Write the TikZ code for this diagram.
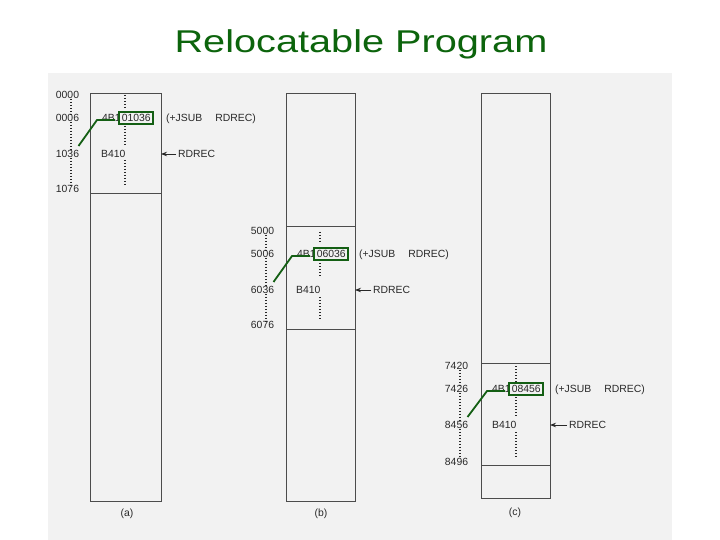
\documentclass[tikz,border=0pt]{standalone}
\usepackage{fontspec}
\setmainfont{Liberation Sans}
\usetikzlibrary{arrows.meta}
\definecolor{ttl}{RGB}{12,100,12}
\definecolor{gbox}{RGB}{20,95,20}
\definecolor{ink}{RGB}{40,40,40}
\definecolor{panel}{RGB}{242,242,242}
\begin{document}
\begin{tikzpicture}[x=1bp,y=-1bp,
  lbl/.style={font=\fontsize{10.4bp}{12bp}\selectfont, text=ink, inner sep=0pt, text height=7.4bp, text depth=0pt},
  mem/.style={draw=black!70, line width=0.9bp},
  dots/.style={draw=ink, line width=1.8bp, dash pattern=on 1.4bp off 1.6bp},
  gbx/.style={lbl, draw=gbox, line width=1.8bp, inner xsep=2.5bp, inner ysep=2bp},
  link/.style={draw=gbox, line width=1.8bp},
  ptr/.style={draw=ink, line width=0.9bp, -{Stealth[length=6bp,width=4.5bp]}}]
\useasboundingbox (0,0) rectangle (720,540);
\fill[white] (0,0) rectangle (720,540);
\fill[panel] (48,73) rectangle (672,540);
\node[font=\fontsize{31.5bp}{36bp}\selectfont, text=ttl, inner sep=0pt, anchor=base] (title) at (361,53) {\scalebox{1.26}[1]{Relocatable Program}};

% ---------- (a) ----------
\draw[mem] (90,93) rectangle (161,501);
\draw[mem] (90,193) -- (161,193);
\coordinate (aR) at (161,93);
\node[lbl] (a0) at (67.5,95) {0000};
\node[lbl] (a1) at (67.5,118) {0006};
\node[lbl] (a2) at (67.5,154) {1036};
\node[lbl] (a3) at (67.5,189) {1076};
\draw[dots] ([xshift=3.5bp]a0.south) -- ([xshift=3.5bp]a1.north);
\draw[dots] ([xshift=3.5bp]a1.south) -- ([xshift=3.5bp]a2.north);
\draw[dots] ([xshift=3.5bp]a2.south) -- ([xshift=3.5bp]a3.north);
\draw[dots] (125,95) -- (125,108);
\draw[dots] (125,126) -- (125,146);
\draw[dots] (125,160) -- (125,187);
\node[lbl, anchor=west] (ia) at (102,118) {4B1};
\node[gbx, anchor=west, xshift=-2.5bp] (ga) at (ia.east) {01036};
\node[lbl, anchor=west] (ja) at (166,118) {(+JSUB\hspace{13bp}RDREC)};
\node[lbl, anchor=west] (ba) at (101,154) {B410};
\node[lbl, anchor=west] (ra) at (178,154) {RDREC};
\draw[ptr, shorten <=2bp] (ra.west) -- (ra.west -| aR);
\draw[link] ([shift={(11,-8)}]a2.center) -- ([shift={(-5,2)}]ia.west) -- ([shift={(13,2)}]ia.west);
\node[lbl] (ca) at (127,513) {(a)};

% ---------- (b) ----------
\draw[mem] (286,93) rectangle (355,501);
\draw[mem] (286,226) -- (355,226);
\draw[mem] (286,329) -- (355,329);
\coordinate (bR) at (355,93);
\node[lbl] (b0) at (262.5,231) {5000};
\node[lbl] (b1) at (262.5,254) {5006};
\node[lbl] (b2) at (262.5,290) {6036};
\node[lbl] (b3) at (262.5,325) {6076};
\draw[dots] ([xshift=3.5bp]b0.south) -- ([xshift=3.5bp]b1.north);
\draw[dots] ([xshift=3.5bp]b1.south) -- ([xshift=3.5bp]b2.north);
\draw[dots] ([xshift=3.5bp]b2.south) -- ([xshift=3.5bp]b3.north);
\draw[dots] (320,232) -- (320,243);
\draw[dots] (320,263) -- (320,278);
\draw[dots] (320,297) -- (320,321);
\node[lbl, anchor=west] (ib) at (297,254) {4B1};
\node[gbx, anchor=west, xshift=-2.5bp] (gb) at (ib.east) {06036};
\node[lbl, anchor=west] (jb) at (359,254) {(+JSUB\hspace{13bp}RDREC)};
\node[lbl, anchor=west] (bb) at (296,290) {B410};
\node[lbl, anchor=west] (rb) at (373,290) {RDREC};
\draw[ptr, shorten <=2bp] (rb.west) -- (rb.west -| bR);
\draw[link] ([shift={(11,-8)}]b2.center) -- ([shift={(-5,2)}]ib.west) -- ([shift={(13,2)}]ib.west);
\node[lbl] (cb) at (321,513) {(b)};

% ---------- (c) ----------
\draw[mem] (481,93) rectangle (550,498);
\draw[mem] (481,363) -- (550,363);
\draw[mem] (481,465) -- (550,465);
\coordinate (cR) at (550,93);
\node[lbl] (c0) at (456.5,366) {7420};
\node[lbl] (c1) at (456.5,389) {7426};
\node[lbl] (c2) at (456.5,425) {8456};
\node[lbl] (c3) at (456.5,462) {8496};
\draw[dots] ([xshift=3.5bp]c0.south) -- ([xshift=3.5bp]c1.north);
\draw[dots] ([xshift=3.5bp]c1.south) -- ([xshift=3.5bp]c2.north);
\draw[dots] ([xshift=3.5bp]c2.south) -- ([xshift=3.5bp]c3.north);
\draw[dots] (516,366) -- (516,382);
\draw[dots] (516,397) -- (516,417);
\draw[dots] (516,432) -- (516,458);
\node[lbl, anchor=west] (ic) at (492,389) {4B1};
\node[gbx, anchor=west, xshift=-2.5bp] (gc) at (ic.east) {08456};
\node[lbl, anchor=west] (jc) at (555,389) {(+JSUB\hspace{13bp}RDREC)};
\node[lbl, anchor=west] (bc) at (492,425) {B410};
\node[lbl, anchor=west] (rc) at (569,425) {RDREC};
\draw[ptr, shorten <=2bp] (rc.west) -- (rc.west -| cR);
\draw[link] ([shift={(11,-8)}]c2.center) -- ([shift={(-5,2)}]ic.west) -- ([shift={(13,2)}]ic.west);
\node[lbl] (cc) at (515,512) {(c)};
\end{tikzpicture}
\end{document}
